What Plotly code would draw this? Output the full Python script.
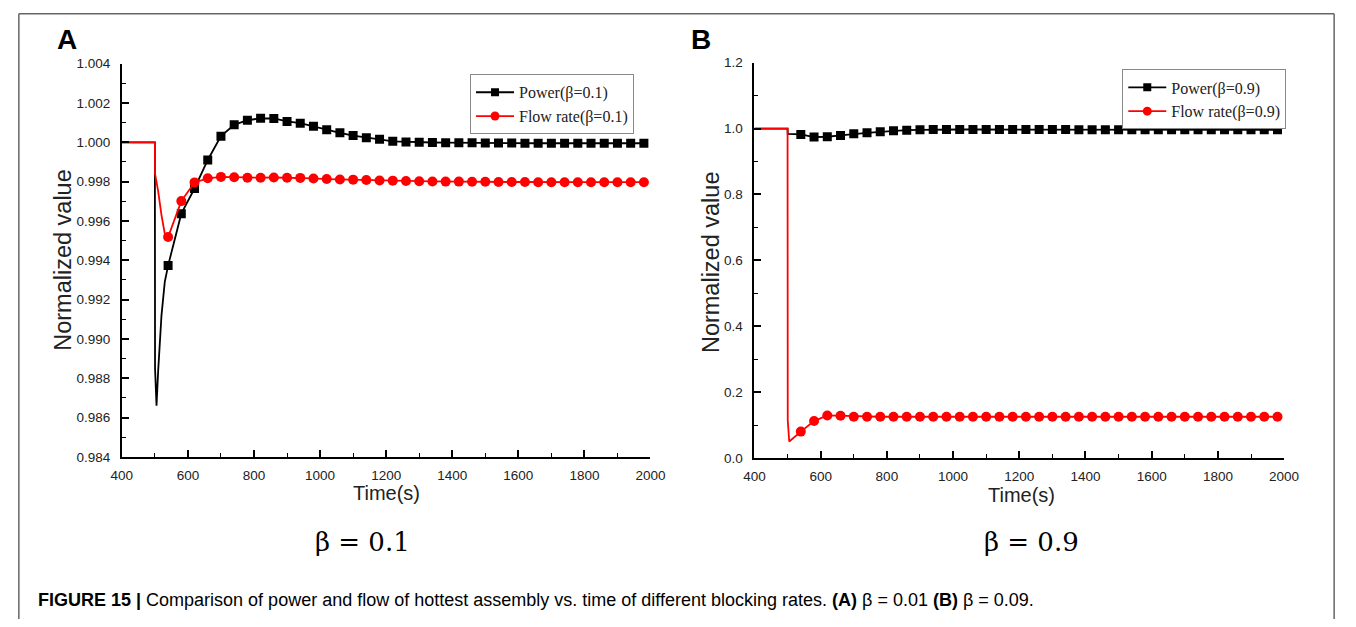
import plotly.graph_objects as go

# ---------------- data ----------------
# sampled marker times (s)
T_MARK = list(range(540, 1981, 40))

# panel A (beta = 0.1)
POWER_A = [0.99373, 0.99637, 0.99765, 0.99910, 1.00031, 1.00089, 1.00112, 1.00122,
           1.00121, 1.00106, 1.00097, 1.00081, 1.00064, 1.00048, 1.00034, 1.00023,
           1.00015, 1.00005, 1.00002, 1.00000, 0.99999, 0.99998, 0.99997, 0.99997,
           0.99996, 0.99996, 0.99996, 0.99995, 0.99995, 0.99995, 0.99995, 0.99995,
           0.99995, 0.99995, 0.99995, 0.99995, 0.99995]
FLOW_A = [0.99518, 0.99701, 0.99796, 0.99817, 0.99824, 0.99822, 0.99820, 0.99820,
          0.99821, 0.99820, 0.99819, 0.99816, 0.99813, 0.99811, 0.99810, 0.99808,
          0.99806, 0.99805, 0.99803, 0.99802, 0.99801, 0.99800, 0.99800, 0.99799,
          0.99799, 0.99798, 0.99798, 0.99798, 0.99797, 0.99797, 0.99797, 0.99797,
          0.99797, 0.99797, 0.99797, 0.99797, 0.99797]
# transient before the first sample
PRE_T_POWER_A = [400, 500, 500.5, 505, 510, 520, 530]
PRE_POWER_A = [1.0, 1.0, 0.9885, 0.9866, 0.9884, 0.9912, 0.9929]
PRE_T_FLOW_A = [400, 500, 500.5, 510, 520, 530]
PRE_FLOW_A = [1.0, 1.0, 0.9984, 0.9975, 0.9963, 0.99535]

# panel B (beta = 0.9)
POWER_B = [0.982, 0.974, 0.975, 0.979, 0.984, 0.987, 0.990, 0.993, 0.995, 0.996,
           0.997, 0.997, 0.997, 0.997, 0.997, 0.997, 0.997, 0.997, 0.997, 0.997,
           0.997, 0.996, 0.996, 0.996, 0.996, 0.996, 0.996, 0.996, 0.996, 0.996,
           0.996, 0.996, 0.996, 0.996, 0.996, 0.996, 0.996]
FLOW_B = [0.080, 0.112, 0.129, 0.128, 0.125, 0.125, 0.125, 0.125, 0.125, 0.125,
          0.125, 0.125, 0.125, 0.125, 0.125, 0.125, 0.125, 0.125, 0.125, 0.125,
          0.125, 0.125, 0.125, 0.125, 0.125, 0.125, 0.125, 0.125, 0.125, 0.125,
          0.125, 0.125, 0.125, 0.125, 0.125, 0.125, 0.125]
PRE_T_POWER_B = [400, 500, 500.5]
PRE_POWER_B = [1.0, 1.0, 0.984]
PRE_T_FLOW_B = [400, 500, 500.5, 505]
PRE_FLOW_B = [1.0, 1.0, 0.115, 0.050]

NAMES_A = ["Power(β=0.1)", "Flow rate(β=0.1)"]
NAMES_B = ["Power(β=0.9)", "Flow rate(β=0.9)"]
X_TICKS = list(range(400, 2001, 200))

# ---------------- figure ----------------
W, H = 1356, 627
BLACK, RED = "#000000", "#ff0000"
TXT = "#222222"


def px(x):
    return x / W


def py(y):
    return 1 - y / H


fig = go.Figure()


def add_series(t_pre, v_pre, v_mark, color, symbol, size, name, xa, ya, legend):
    # continuous curve
    fig.add_trace(go.Scatter(x=t_pre + T_MARK, y=v_pre + v_mark, mode="lines",
                             line=dict(color=color, width=1.8), xaxis=xa, yaxis=ya,
                             showlegend=False, hoverinfo="skip"))
    # sampled markers
    fig.add_trace(go.Scatter(x=T_MARK, y=v_mark, mode="markers",
                             marker=dict(color=color, symbol=symbol, size=size),
                             xaxis=xa, yaxis=ya, showlegend=False))
    # legend entry
    fig.add_trace(go.Scatter(x=[None], y=[None], mode="lines+markers", name=name,
                             line=dict(color=color, width=1.8),
                             marker=dict(color=color, symbol=symbol, size=size - 1),
                             xaxis=xa, yaxis=ya, legend=legend))


add_series(PRE_T_POWER_A, PRE_POWER_A, POWER_A, BLACK, "square", 9, NAMES_A[0], "x", "y", "legend")
add_series(PRE_T_FLOW_A, PRE_FLOW_A, FLOW_A, RED, "circle", 10, NAMES_A[1], "x", "y", "legend")
add_series(PRE_T_POWER_B, PRE_POWER_B, POWER_B, BLACK, "square", 9, NAMES_B[0], "x2", "y2", "legend2")
add_series(PRE_T_FLOW_B, PRE_FLOW_B, FLOW_B, RED, "circle", 10, NAMES_B[1], "x2", "y2", "legend2")

tickfont = dict(family="Liberation Sans, Arial", size=13.5, color=TXT)
common_x = dict(range=[400, 2000], tickvals=X_TICKS, showline=True, linecolor="black",
                linewidth=1.8, ticks="inside", ticklen=7, tickwidth=1.5, tickcolor="black",
                showgrid=False, zeroline=False, tickfont=tickfont, ticklabelstandoff=5,
                minor=dict(ticks="inside", ticklen=4, dtick=100, tickcolor="black", tickwidth=1.3))
common_y = dict(showline=True, linecolor="black", linewidth=1.8, ticks="inside", ticklen=7,
                tickwidth=1.5, tickcolor="black", showgrid=False, zeroline=False,
                tickfont=tickfont, ticklabelstandoff=7)

legend_style = dict(xanchor="left", yanchor="top", bgcolor="white",
                    bordercolor="#888888", borderwidth=1,
                    font=dict(family="Liberation Serif, Times New Roman", size=16, color=TXT),
                    itemwidth=38, tracegroupgap=0)

fig.update_layout(
    width=W, height=H, margin=dict(l=0, r=0, t=0, b=0),
    paper_bgcolor="white", plot_bgcolor="white",
    font=dict(family="Liberation Sans, Arial", color=TXT),
    xaxis=dict(domain=[px(113), px(652)], anchor="y", **common_x),
    yaxis=dict(domain=[py(461), py(58)], anchor="x", range=[0.984, 1.004], dtick=0.002,
               tick0=0.984, tickformat=".3f",
               minor=dict(ticks="inside", ticklen=4, dtick=0.001, tickcolor="black", tickwidth=1.3),
               **common_y),
    xaxis2=dict(domain=[px(758), px(1298)], anchor="y2", **common_x),
    yaxis2=dict(domain=[py(462), py(57)], anchor="x2", range=[0, 1.2], dtick=0.2,
                tickformat=".1f",
                minor=dict(ticks="inside", ticklen=4, dtick=0.1, tickcolor="black", tickwidth=1.3),
                **common_y),
    legend=dict(x=px(468), y=py(69), **legend_style),
    legend2=dict(x=px(1133), y=py(64), **legend_style),
)

# outer frame (open at the bottom edge)
frame = dict(type="line", xref="paper", yref="paper", line=dict(color="#666666", width=1.5))
fig.add_shape(x0=px(8), x1=px(1349), y0=py(7), y1=py(7), **frame)
fig.add_shape(x0=px(8), x1=px(8), y0=py(7), y1=py(627), **frame)
fig.add_shape(x0=px(1349), x1=px(1349), y0=py(7), y1=py(627), **frame)


def note(x, y, text, size, family="Liberation Sans, Arial", angle=0, xanchor="center", color=TXT):
    fig.add_annotation(x=px(x), y=py(y), xref="paper", yref="paper", text=text, showarrow=False,
                       xanchor=xanchor, yanchor="middle", textangle=angle,
                       font=dict(size=size, family=family, color=color))


note(57, 33, "<b>A</b>", 28, color="black")
note(703, 33, "<b>B</b>", 28, color="black")
note(383, 498, "Time(s)", 20)
note(1030, 500, "Time(s)", 20)
note(53, 259, "Normalized value", 23.5, angle=-90)
note(713, 261, "Normalized value", 23.5, angle=-90)
note(358, 548, "β = 0.1", 26, family="DejaVu Serif, Liberation Serif", color="black")
note(1040, 548, "β = 0.9", 26, family="DejaVu Serif, Liberation Serif", color="black")
note(25, 608, "<b>FIGURE 15 |</b> Comparison of power and flow of hottest assembly vs. time of "
              "different blocking rates. <b>(A)</b> β = 0.01 <b>(B)</b> β = 0.09.",
     18, xanchor="left", color="black")

# page without body margin so the figure fills the window exactly
fig.write_html("out.html", post_script="document.body.style.margin='0';")
